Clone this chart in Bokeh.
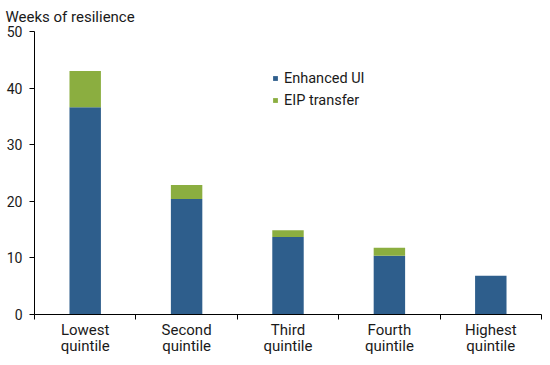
from bokeh.plotting import figure
from bokeh.models import Range1d, FixedTicker
from bokeh.embed import file_html
from bokeh.resources import INLINE

categories = ["Lowest\nquintile", "Second\nquintile", "Third\nquintile", "Fourth\nquintile", "Highest\nquintile"]
enhanced_ui = [36.6, 20.4, 13.7, 10.4, 6.85]
eip_transfer = [6.4, 2.5, 1.2, 1.4, 0.0]
y_ticks = [0, 10, 20, 30, 40, 50]

BLUE = "#2e5e8c"
GREEN = "#8bae40"
TEXT = "#1a1a1a"
FONT = "Roboto"

xs = list(range(1, len(categories) + 1))
data = dict(x=xs, enhanced=enhanced_ui, eip=eip_transfer)

p = figure(width=542, height=357, output_backend="svg", toolbar_location=None,
           x_range=Range1d(0.5, len(categories) + 0.5), y_range=Range1d(0, 50),
           min_border_left=34, min_border_right=1, min_border_top=31, min_border_bottom=38)

p.vbar_stack(["enhanced", "eip"], x="x", width=0.31, source=data,
             color=[BLUE, GREEN], line_color=None,
             legend_label=["Enhanced UI", "EIP transfer"])

p.title.text = "Weeks of resilience"
p.title.text_font = FONT
p.title.text_font_size = "15px"
p.title.text_font_style = "normal"
p.title.text_color = TEXT
p.title.align = "left"
p.title.vertical_align = "top"
p.title.offset = -29
p.title.standoff = 8

p.xgrid.visible = False
p.ygrid.visible = False
p.outline_line_color = None

xa = p.xaxis[0]
xa.ticker = FixedTicker(ticks=xs, minor_ticks=[x - 0.5 for x in xs] + [xs[-1] + 0.5])
xa.major_label_overrides = {x: c for x, c in zip(xs, categories)}
xa.major_tick_line_color = None
xa.major_tick_out = 5
xa.major_tick_in = 0
xa.minor_tick_line_color = "black"
xa.minor_tick_out = 5
xa.minor_tick_in = 0
xa.major_label_standoff = 1
xa.major_label_text_line_height = 0.9
xa.major_label_text_font_size = "15px"
xa.axis_line_color = "black"

ya = p.yaxis[0]
ya.ticker = FixedTicker(ticks=y_ticks, minor_ticks=[])
ya.major_tick_out = 5
ya.major_tick_in = 0
ya.major_label_standoff = 7
ya.major_label_text_font_size = "14px"
ya.axis_line_color = "black"

for ax in (xa, ya):
    ax.major_label_text_font = FONT
    ax.major_label_text_color = TEXT

leg = p.legend[0]
leg.location = (238, 203)
leg.border_line_color = None
leg.background_fill_alpha = 0
leg.padding = 0
leg.margin = 0
leg.spacing = 0
leg.glyph_width = 6
leg.glyph_height = 6
leg.label_height = 22
leg.label_standoff = 6
leg.label_text_font = FONT
leg.label_text_font_size = "14.5px"
leg.label_text_color = TEXT

open("out.html", "w").write(file_html(p, INLINE))
